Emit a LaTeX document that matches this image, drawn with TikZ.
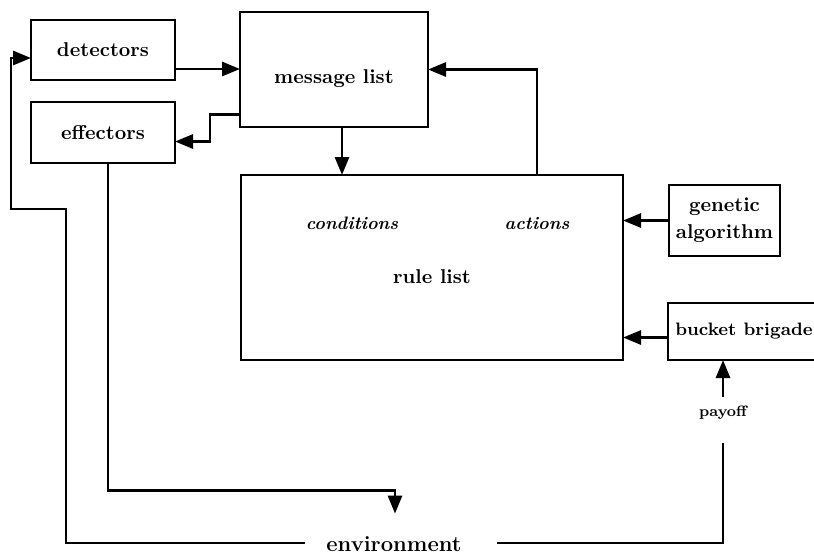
\documentclass[tikz,border=0pt]{standalone}
\usetikzlibrary{calc,arrows.meta}

\begin{document}
\begin{tikzpicture}[x=0.5pt,y=-0.5pt,line width=1.4pt,
        box/.style={draw,inner sep=0pt,outer sep=0pt,font=\fontsize{10}{13.5}\selectfont\bfseries},
        arr/.style={-{Triangle[length=9pt,width=7pt]}}]
        \useasboundingbox (0,0) rectangle (814,554);

        \node[box,minimum width=72pt,minimum height=30pt] (det) at (103,50) {detectors};
        \node[box,minimum width=72pt,minimum height=30.5pt] (eff) at (103,132.5) {effectors};
        \node[box,minimum width=94pt,minimum height=57.5pt,text height=16pt] (msg) at (334,69.5) {message list};
        \node[box,minimum width=191pt,minimum height=92.5pt,text height=16pt] (rule) at (432,267.5) {rule list};
        \node[box,minimum width=55.5pt,minimum height=35.5pt,align=center] (gen) at (724.5,220.5) {genetic\\algorithm};
        \node[box,minimum width=76pt,minimum height=28.5pt,font=\fontsize{9}{11}\selectfont\bfseries] (buck) at (744,331.5) {bucket brigade};

        \node[font=\fontsize{9}{11}\selectfont\bfseries\itshape] (cond) at ($(rule.north)+(-80,48)$) {conditions};
        \node[font=\fontsize{9}{11}\selectfont\bfseries\itshape] (act) at ($(rule.north)+(105,48)$) {actions};

        \node[font=\fontsize{7.5}{9}\selectfont\bfseries,inner sep=0pt,text height=6pt,text depth=2pt] (pay) at (723,412) {payoff};
        \node[font=\fontsize{11}{12}\selectfont\bfseries,inner ysep=0pt,inner xsep=10pt,text height=8pt,text depth=0pt] (env) at (394,543) {environment};

        \draw[arr] ($(det.east)+(0,19)$) coordinate (d1) -- (d1 -| msg.west);
        \draw[arr] ($(msg.west)+(0,45)$) -- ++(-30,0) |- ($(eff.east)+(0,9)$);
        \draw[arr] ($(msg.south)+(8,0)$) coordinate (m1) -- (m1 |- rule.north);
        \draw[arr] ($(rule.north)+(105,0)$) |- (msg.east);
        \draw[arr] (gen.west) -- (gen.west -| rule.east);
        \draw[arr] ($(buck.west)+(0,6)$) coordinate (b1) -- (b1 -| rule.east);
        \draw[arr] ($(pay.north)+(0,-6)$) -- (pay.north |- buck.south);
        \draw ($(pay.south)+(0,22)$) |- ($(env.east)+(14,0)$);
        \draw[arr] ($(eff.south)+(5,0)$) |- ($(env.north)+(1,-43)$) -- ($(env.north)+(1,-20)$);
        \draw[arr] (env.west) -- ++(-239,0) -- ++(0,-334) -- ++(-55,0) |- ($(det.west)+(0,8)$);
\end{tikzpicture}
\end{document}
